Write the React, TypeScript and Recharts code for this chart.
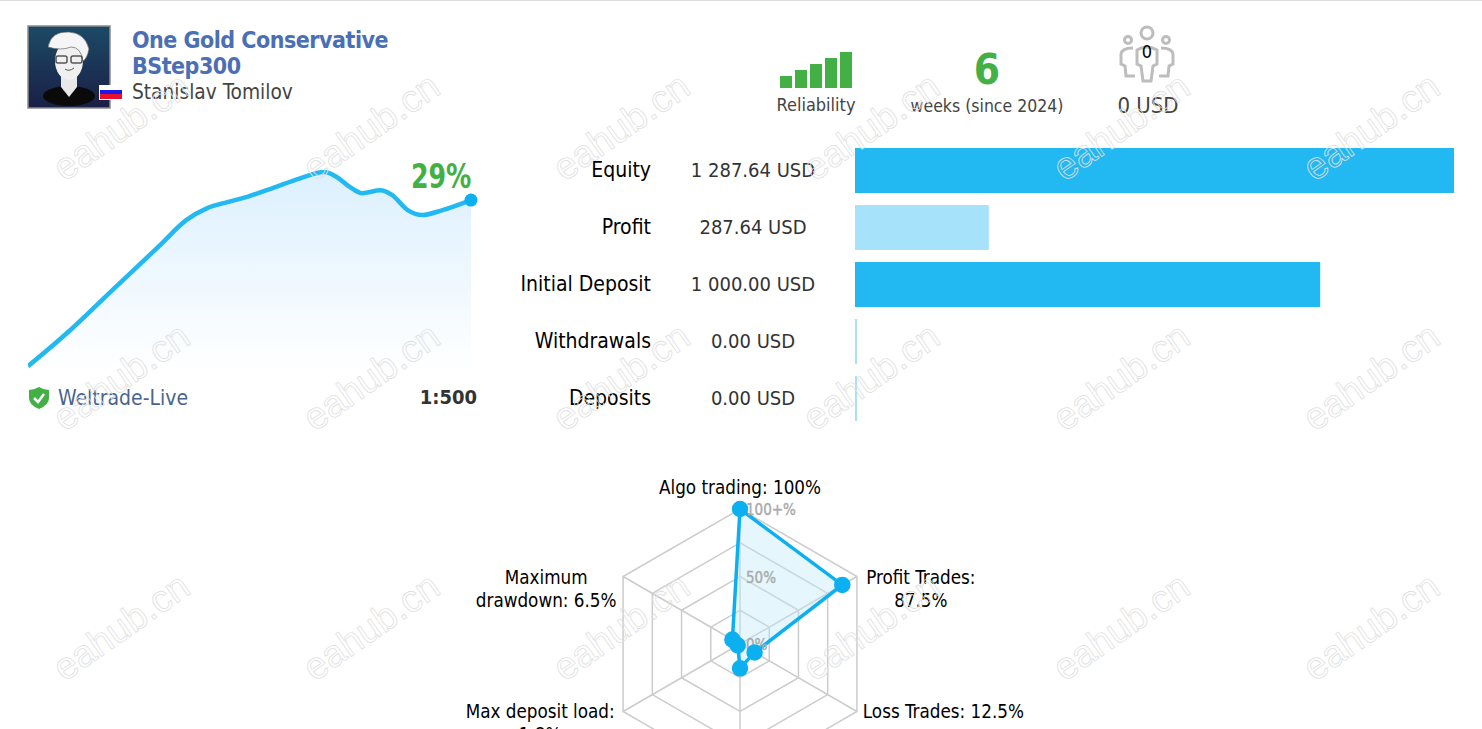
import React from "react";
import {
  AreaChart, Area, BarChart, Bar, Cell, XAxis, YAxis, ReferenceDot,
  RadarChart, Radar, PolarGrid, PolarAngleAxis, PolarRadiusAxis,
} from "recharts";

const FONT = '"DejaVu Sans Condensed", "Noto Sans", sans-serif';
const BLUE = "#22b9f2";
const LIGHT_BLUE = "#a6e2f9";
const DOT_BLUE = "#0cb0f0";
const GREEN = "#42b044";

// growth curve, days since start / percent
const growthDays = [0, 3.7, 8, 12.5, 15, 17, 18.9, 21, 23.2, 25.8, 28.1, 29.3, 30.5, 31.7, 33.4, 34.5, 36, 37.4, 39.3, 42];
const growthPct = [0, 5.8, 13.3, 21.1, 25.5, 27.6, 28.65, 29.7, 31.1, 32.8, 33.9, 33, 31.3, 30.2, 30.7, 29.9, 27.25, 26.4, 27.25, 29];

const balanceNames = ["Equity", "Profit", "Initial Deposit", "Withdrawals", "Deposits"];
const balanceValues = [1287.64, 287.64, 1000, 0, 0];
const balanceLabels = ["1 287.64 USD", "287.64 USD", "1 000.00 USD", "0.00 USD", "0.00 USD"];
const balanceColors = [BLUE, LIGHT_BLUE, BLUE, LIGHT_BLUE, LIGHT_BLUE];

const reliabilitySteps = [1, 2, 3, 4, 5];
const reliabilityLevels = [2, 3, 4, 5, 6];

const radarNames = ["Algo trading", "Profit Trades", "Loss Trades", "Trading activity", "Max deposit load", "Maximum drawdown"];
const radarValues = [100, 87.5, 12.5, 18, 2, 6.5];
const radarText = [
  ["Algo trading: 100%"],
  ["Profit Trades:", "87.5%"],
  ["Loss Trades: 12.5%"],
  ["Trading activity: 18%"],
  ["Max deposit load:", "1.8%"],
  ["Maximum", "drawdown: 6.5%"],
];
const radarTicks: Record<number, string> = { 0: "0%", 50: "50%", 100: "100+%" };

const watermarkColumns = [120, 370, 620, 870, 1120, 1370];
const watermarkRows = [125, 375, 625];

const growthData = growthDays.map((day, i) => ({ day, pct: growthPct[i] }));
const balanceData = balanceNames.map((name, i) => ({ name, value: balanceValues[i] }));
const reliabilityData = reliabilitySteps.map((step, i) => ({ step, level: reliabilityLevels[i] }));
const radarData = radarNames.map((name, i) => ({ name, value: radarValues[i] }));

const BalanceTick = ({ y, payload, index }: any) => (
  <g fontFamily={FONT}>
    <text x={151} y={y + 6} textAnchor="end" fill="#000" fontSize={21}>{payload.value}</text>
    <text x={253} y={y + 6} textAnchor="middle" fill="#333" fontSize={20}>{balanceLabels[index]}</text>
  </g>
);

const RadarLabel = ({ x, y, payload }: any) => {
  const lines = radarText[radarNames.indexOf(payload.value)];
  let tx = x;
  let anchor = "middle";
  let ty = y;
  if (payload.value === "Algo trading") ty = y - 7;
  if (payload.value === "Profit Trades") { tx = x + 57; ty = y + 11; }
  if (payload.value === "Loss Trades") { tx = x - 1; ty = y + 2; anchor = "start"; }
  if (payload.value === "Max deposit load") { tx = x - 76; ty = y + 2; }
  if (payload.value === "Maximum drawdown") { tx = x - 70; ty = y + 11; }
  return (
    <text x={tx} y={ty} textAnchor={anchor as any} fontFamily={FONT} fontSize={18.7} fill="#000">
      {lines.map((line, i) => (
        <tspan key={line} x={tx} dy={i === 0 ? 0 : 23}>{line}</tspan>
      ))}
    </text>
  );
};

const RadarTick = ({ x, y, payload }: any) => (
  <text x={x + 6} y={y + 6} fontFamily={FONT} fontSize={15} fill="#aaa" stroke="#aaa" strokeWidth={0.4}>
    {radarTicks[payload.value] ?? ""}
  </text>
);

const Avatar = () => (
  <svg style={{ position: "absolute", left: 27, top: 25 }} width={96} height={84}>
    <defs>
      <linearGradient id="avatarBg" x1="0" y1="0" x2="0" y2="1">
        <stop offset="0%" stopColor="#1c4a66" />
        <stop offset="100%" stopColor="#1a1f45" />
      </linearGradient>
    </defs>
    <rect x={1} y={1} width={82} height={82} fill="url(#avatarBg)" stroke="#8c8c8c" strokeWidth={1.5} />
    <ellipse cx={42} cy={71} rx={26} ry={10} fill="#0a0a0a" />
    <path d="M34 50 L34 62 L42 72 L50 62 L50 50 Z" fill="#e8e8e8" />
    <ellipse cx={42} cy={36} rx={14} ry={19} fill="#f0f0f0" />
    <path d="M21 22 Q24 6 42 7 Q58 8 62 24 Q60 34 56 36 Q54 22 44 22 Q34 26 21 22 Z" fill="#f5f5f5" stroke="#666" strokeWidth={0.7} />
    <rect x={29} y={31} width={11} height={7} rx={2} fill="none" stroke="#555" strokeWidth={1.5} />
    <rect x={44} y={31} width={11} height={7} rx={2} fill="none" stroke="#555" strokeWidth={1.5} />
    <path d="M38 44 Q42 47 47 43" fill="none" stroke="#555" />
    <rect x={72} y={60} width={23} height={15} fill="#fff" />
    <rect x={73} y={69} width={22} height={5} fill="#e8112d" />
    <rect x={73} y={65} width={22} height={4} fill="#1a1ae8" />
  </svg>
);

const PeopleIcon = () => (
  <svg style={{ position: "absolute", left: 1116, top: 24 }} width={62} height={60} fill="none" stroke="#bdbdbd" strokeWidth={3}>
    <circle cx={31} cy={9} r={6} />
    <circle cx={12} cy={16} r={3.5} />
    <circle cx={50} cy={16} r={3.5} />
    <path d="M21 26 Q31 20 41 26 L41 40 L37 42 L35 57 L27 57 L25 42 L21 40 Z" />
    <path d="M17 24 Q6 24 5 30 L5 40 L9 42 L10 52 L19 52" />
    <path d="M45 24 Q56 24 57 30 L57 40 L53 42 L52 52 L43 52" />
  </svg>
);

const ShieldIcon = () => (
  <svg style={{ position: "absolute", left: 28, top: 386 }} width={22} height={24}>
    <path d="M11 1 Q16 4 21 4 L21 12 Q21 19 11 23 Q1 19 1 12 L1 4 Q6 4 11 1 Z" fill={GREEN} />
    <path d="M6 12 L10 16 L16 8" fill="none" stroke="#fff" strokeWidth={2.5} />
  </svg>
);

const Label = ({ left, top, size, color, children, weight, align, width, spacing, squeeze }: any) => (
  <div
    style={{
      position: "absolute", left, top, fontSize: size, color, fontWeight: weight ?? "normal",
      fontFamily: FONT, lineHeight: 1, whiteSpace: "nowrap", textAlign: align ?? "left", width,
      letterSpacing: spacing, transform: squeeze ? `scaleX(${squeeze})` : undefined, transformOrigin: "left",
    }}
  >
    {children}
  </div>
);

export default function App() {
  return (
    <div style={{ position: "absolute", left: 0, top: 0, width: 1482, height: 729, overflow: "hidden", background: "#fff" }}>
      <div style={{ position: "absolute", left: 0, top: 0, width: 1482, height: 1, background: "#ddd" }} />

      <Avatar />
      <Label left={132} top={29} size={23} color="#4a6fb5" weight="bold" spacing="-0.5px">One Gold Conservative</Label>
      <Label left={132} top={55} size={23} color="#4a6fb5" weight="bold" spacing="-0.5px">BStep300</Label>
      <Label left={132} top={82} size={20.7} color="#444">Stanislav Tomilov</Label>

      <div style={{ position: "absolute", left: 778, top: 52 }}>
        <BarChart width={75} height={36} data={reliabilityData} margin={{ top: 0, right: 0, bottom: 0, left: 0 }} barSize={12}>
          <XAxis dataKey="step" hide />
          <YAxis hide domain={[0, 6]} />
          <Bar dataKey="level" fill={GREEN} isAnimationActive={false} />
        </BarChart>
      </div>
      <Label left={756} top={96} size={18} color="#444" align="center" width={120}>Reliability</Label>
      <Label left={927} top={49} size={42} color={GREEN} weight="bold" align="center" width={120}>6</Label>
      <Label left={887} top={98} size={17.5} color="#444" align="center" width={200}>weeks (since 2024)</Label>
      <PeopleIcon />
      <Label left={1117} top={43} size={18} color="#000" align="center" width={60}>0</Label>
      <Label left={1088} top={95} size={22} color="#444" align="center" width={120}>0 USD</Label>

      <div style={{ position: "absolute", left: 28, top: 160 }}>
        <AreaChart width={453} height={212} data={growthData} margin={{ top: 0, right: 10, bottom: 0, left: 0 }}>
          <defs>
            <linearGradient id="growthFill" x1="0" y1="0" x2="0" y2="1">
              <stop offset="0%" stopColor="#dcf0fe" />
              <stop offset="100%" stopColor="#ffffff" />
            </linearGradient>
          </defs>
          <XAxis dataKey="day" type="number" domain={[0, 42]} hide />
          <YAxis domain={[-1, 36]} hide />
          <Area type="monotone" dataKey="pct" stroke={BLUE} strokeWidth={4.5} fill="url(#growthFill)" fillOpacity={1} baseValue={-1} dot={false} isAnimationActive={false} />
          <ReferenceDot x={42} y={29} r={6.5} fill={DOT_BLUE} stroke="none" ifOverflow="visible" />
        </AreaChart>
      </div>
      <Label left={411} top={160} size={33} color={GREEN} weight="bold" squeeze={0.85}>29%</Label>
      <ShieldIcon />
      <Label left={58} top={388} size={21} color="#4a6491">Weltrade-Live</Label>
      <Label left={357} top={387} size={20} color="#333" weight="bold" align="right" width={120}>1:500</Label>

      <div style={{ position: "absolute", left: 500, top: 142 }}>
        <BarChart width={954} height={285} layout="vertical" data={balanceData} margin={{ top: 0, right: 0, bottom: 0, left: 0 }} barSize={45}>
          <XAxis type="number" domain={[0, 1287.64]} hide />
          <YAxis type="category" dataKey="name" width={355} axisLine={false} tickLine={false} tick={<BalanceTick />} interval={0} />
          <Bar dataKey="value" minPointSize={2} isAnimationActive={false}>
            {balanceData.map((row, i) => (
              <Cell key={row.name} fill={balanceColors[i]} />
            ))}
          </Bar>
        </BarChart>
      </div>

      <div style={{ position: "absolute", left: 340, top: 440 }}>
        <RadarChart width={800} height={410} cx={400} cy={204} outerRadius={135} data={radarData} margin={{ top: 0, right: 0, bottom: 0, left: 0 }}>
          <PolarGrid stroke="#cccccc" strokeWidth={1.5} />
          <PolarAngleAxis dataKey="name" tick={<RadarLabel />} tickLine={false} axisLine={false} />
          <PolarRadiusAxis angle={90} domain={[0, 100]} tickCount={5} axisLine={false} tickLine={false} tick={<RadarTick />} />
          <Radar dataKey="value" stroke={DOT_BLUE} strokeWidth={3.5} fill="#bfeafb" fillOpacity={0.4} dot={{ r: 6.5, fill: DOT_BLUE, stroke: DOT_BLUE, fillOpacity: 1 }} isAnimationActive={false} />
        </RadarChart>
      </div>

      <svg style={{ position: "absolute", left: 0, top: 0, pointerEvents: "none" }} width={1482} height={729}>
        {watermarkRows.map((cy) =>
          watermarkColumns.map((cx) => (
            <text
              key={`${cx}-${cy}`}
              x={cx}
              y={cy + 15}
              textAnchor="middle"
              transform={`rotate(-35 ${cx} ${cy})`}
              fontFamily="Liberation Sans"
              fontSize={38}
              fill="none"
              stroke="#e0e0e0"
              strokeWidth={0.8}
            >
              eahub.cn
            </text>
          ))
        )}
      </svg>
    </div>
  );
}
